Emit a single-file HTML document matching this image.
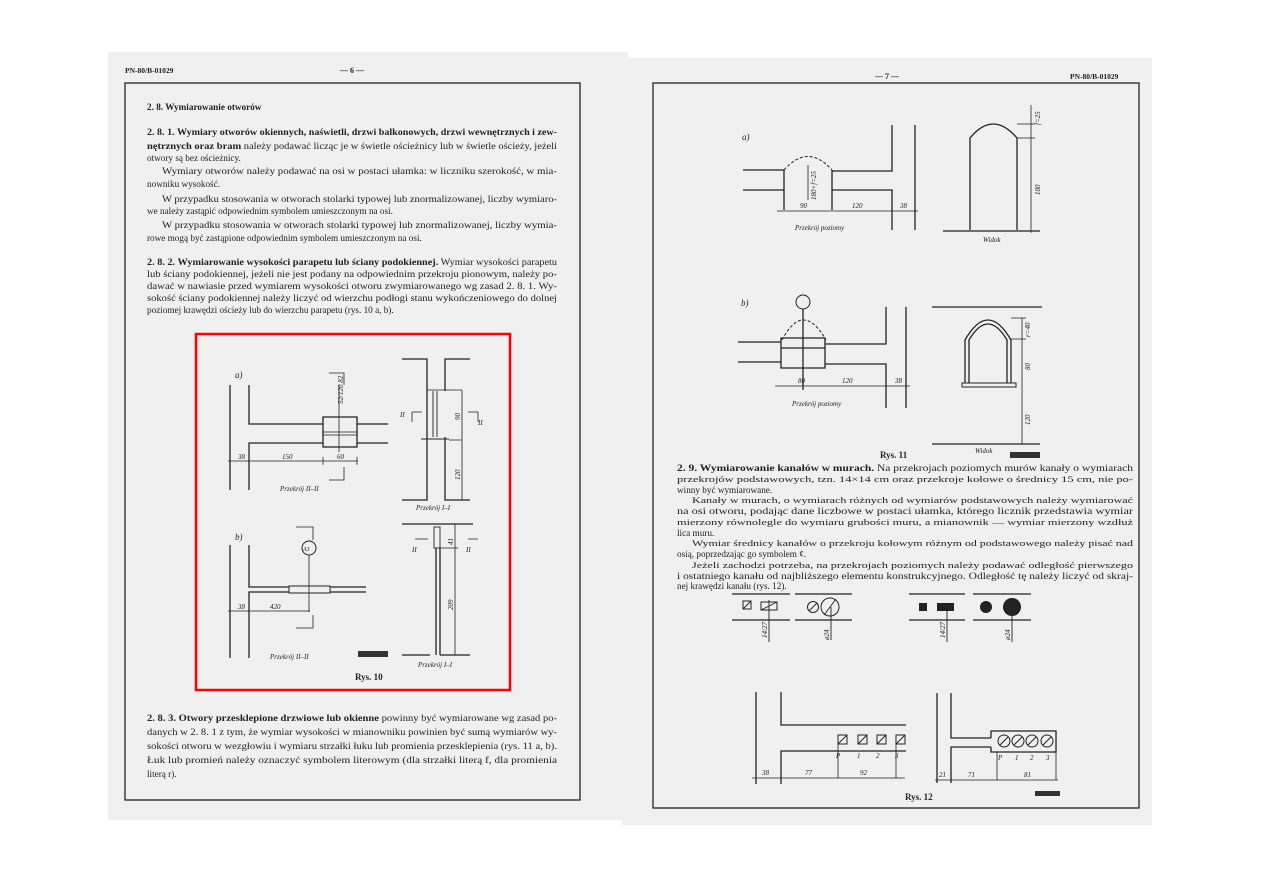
<!DOCTYPE html>
<html><head><meta charset="utf-8"><style>
html,body{margin:0;padding:0;background:#fff;}
svg{display:block;}
text{font-family:"Liberation Serif",serif;fill:#222;}
.b{font-weight:bold;}
.i{font-family:"Liberation Sans",sans-serif;font-style:italic;font-size:7px;}
.s{font-size:9.2px;}
</style></head><body>
<svg width="1263" height="893" viewBox="0 0 1263 893" xmlns="http://www.w3.org/2000/svg">
<rect x="108" y="52" width="520" height="768" fill="#f0f0f0"/>
<rect x="622" y="58" width="530" height="767" fill="#f0f0f0"/>
<rect x="125" y="83" width="455" height="717" fill="none" stroke="#222" stroke-width="1.3"/>
<rect x="653" y="83" width="486" height="725" fill="none" stroke="#222" stroke-width="1.3"/>

<g class="s">
<text x="125" y="73" class="b" font-size="7.5">PN-80/B-01029</text>
<text x="340" y="73" class="b" font-size="8">— 6 —</text>
<text x="147" y="110" class="b">2. 8. Wymiarowanie otworów</text>
<text x="147" y="135" textLength="410" lengthAdjust="spacingAndGlyphs"><tspan class="b">2. 8. 1. Wymiary otworów okiennych, naświetli, drzwi balkonowych, drzwi wewnętrznych i zew-</tspan></text>
<text x="147" y="149" textLength="410" lengthAdjust="spacingAndGlyphs"><tspan class="b">nętrznych oraz bram</tspan> należy podawać licząc je w świetle ościeżnicy lub w świetle ościeży, jeżeli</text>
<text x="147" y="161">otwory są bez ościeżnicy.</text>
<text x="162" y="174" textLength="395" lengthAdjust="spacingAndGlyphs">Wymiary otworów należy podawać na osi w postaci ułamka: w liczniku szerokość, w mia-</text>
<text x="147" y="187">nowniku wysokość.</text>
<text x="162" y="202" textLength="395" lengthAdjust="spacingAndGlyphs">W przypadku stosowania w otworach stolarki typowej lub znormalizowanej, liczby wymiaro-</text>
<text x="147" y="214">we należy zastąpić odpowiednim symbolem umieszczonym na osi.</text>
<text x="162" y="228" textLength="395" lengthAdjust="spacingAndGlyphs">W przypadku stosowania w otworach stolarki typowej lub znormalizowanej, liczby wymia-</text>
<text x="147" y="241">rowe mogą być zastąpione odpowiednim symbolem umieszczonym na osi.</text>
<text x="147" y="265" textLength="410" lengthAdjust="spacingAndGlyphs"><tspan class="b">2. 8. 2. Wymiarowanie wysokości parapetu lub ściany podokiennej.</tspan> Wymiar wysokości parapetu</text>
<text x="147" y="277" textLength="410" lengthAdjust="spacingAndGlyphs">lub ściany podokiennej, jeżeli nie jest podany na odpowiednim przekroju pionowym, należy po-</text>
<text x="147" y="289" textLength="410" lengthAdjust="spacingAndGlyphs">dawać w nawiasie przed wymiarem wysokości otworu zwymiarowanego wg zasad 2. 8. 1. Wy-</text>
<text x="147" y="301" textLength="410" lengthAdjust="spacingAndGlyphs">sokość ściany podokiennej należy liczyć od wierzchu podłogi stanu wykończeniowego do dolnej</text>
<text x="147" y="313">poziomej krawędzi ościeży lub do wierzchu parapetu (rys. 10 a, b).</text>

<text x="147" y="721" textLength="410" lengthAdjust="spacingAndGlyphs"><tspan class="b">2. 8. 3. Otwory przesklepione drzwiowe lub okienne</tspan> powinny być wymiarowane wg zasad po-</text>
<text x="147" y="735" textLength="410" lengthAdjust="spacingAndGlyphs">danych w 2. 8. 1 z tym, że wymiar wysokości w mianowniku powinien być sumą wymiarów wy-</text>
<text x="147" y="749" textLength="410" lengthAdjust="spacingAndGlyphs">sokości otworu w wezgłowiu i wymiaru strzałki łuku lub promienia przesklepienia (rys. 11 a, b).</text>
<text x="147" y="763" textLength="410" lengthAdjust="spacingAndGlyphs">Łuk lub promień należy oznaczyć symbolem literowym (dla strzałki literą f, dla promienia</text>
<text x="147" y="777">literą r).</text>
</g>

<rect x="196" y="334" width="314" height="356" fill="none" stroke="#f00" stroke-width="2.5"/>

<g stroke="#222" fill="none" stroke-width="1.3">
 <path d="M230 385V490M249 385V424H323M249 490V443H323M323 417H357V447H323ZM357 424H388M357 443H388"/>
 <path d="M323 432H357M323 435H357" stroke-width="0.8"/>
 <path d="M228 461H358M230 457V465M249 457V465M323 457V465M357 457V465" stroke-width="0.8"/>
 <path d="M339 385V452M329 373H344V385M344 467V480H329" stroke-width="0.8"/>
 <path d="M402 359H427V500H402M470 359H445V391M445 437V500H470"/>
 <path d="M433 391V437M437 391V437M421 439H449" stroke-width="0.9"/>
 <path d="M427 390H462M449 440H462M462 390V500M412 412V422M412 412H422M478 412V422M478 412H468" stroke-width="0.8"/>
 <path d="M230 545V658M249 545V587H289M249 658V592H289M330 587H366M330 592H366"/>
 <rect x="289" y="586" width="41" height="7" stroke-width="1"/>
 <circle cx="309" cy="548" r="7" stroke-width="1"/>
 <path d="M309 555V612M228 611H310M230 607V615M249 607V615M296 527H313V540M313 615V628H296" stroke-width="0.8"/>
 <path d="M402 524H473M436 548V655M440 548V655M402 655H430M440 655H470"/>
 <rect x="434" y="527" width="6" height="21" stroke-width="0.9"/>
 <path d="M455 524V655M440 548H458M415 539H428M468 539H478" stroke-width="0.8"/>
</g>
<rect x="358" y="651" width="30" height="6" fill="#333"/>
<g class="i">
<text x="235" y="378" font-size="9">a)</text>
<text x="235" y="540" font-size="9">b)</text>
<text x="238" y="459">38</text><text x="282" y="459">150</text><text x="337" y="459">60</text>
<text x="280" y="491">Przekrój II–II</text>
<text x="416" y="510">Przekrój I–I</text>
<text x="238" y="609">38</text><text x="270" y="609">420</text>
<text x="303" y="551" font-size="6">A3</text>
<text x="270" y="659">Przekrój II–II</text>
<text x="418" y="667">Przekrój I–I</text>
<text x="400" y="417">II</text><text x="478" y="425">II</text>
<text x="412" y="552">II</text><text x="466" y="552">II</text>
<text transform="translate(343,404) rotate(-90)">52/120 82</text>
<text transform="translate(460,420) rotate(-90)">90</text>
<text transform="translate(460,480) rotate(-90)">120</text>
<text transform="translate(453,545) rotate(-90)">41</text>
<text transform="translate(453,610) rotate(-90)">209</text>
</g>
<text x="355" y="680" font-size="9" class="b">Rys. 10</text>

<g class="s">
<text x="875" y="79" class="b" font-size="8">— 7 —</text>
<text x="1070" y="79" class="b" font-size="7.5">PN-80/B-01029</text>
<text x="880" y="458" class="b" font-size="9">Rys. 11</text>
<text x="677" y="471" textLength="456" lengthAdjust="spacingAndGlyphs"><tspan class="b">2. 9. Wymiarowanie kanałów w murach.</tspan> Na przekrojach poziomych murów kanały o wymiarach</text>
<text x="677" y="482" textLength="456" lengthAdjust="spacingAndGlyphs" font-size="8.5">przekrojów podstawowych, tzn. 14×14 cm oraz przekroje kołowe o średnicy 15 cm, nie po-</text>
<text x="677" y="493">winny być wymiarowane.</text>
<text x="692" y="503" textLength="441" lengthAdjust="spacingAndGlyphs" font-size="8.5">Kanały w murach, o wymiarach różnych od wymiarów podstawowych należy wymiarować</text>
<text x="677" y="514" textLength="456" lengthAdjust="spacingAndGlyphs">na osi otworu, podając dane liczbowe w postaci ułamka, którego licznik przedstawia wymiar</text>
<text x="677" y="525" textLength="456" lengthAdjust="spacingAndGlyphs" font-size="8.5">mierzony równolegle do wymiaru grubości muru, a mianownik — wymiar mierzony wzdłuż</text>
<text x="677" y="536">lica muru.</text>
<text x="692" y="546" textLength="441" lengthAdjust="spacingAndGlyphs" font-size="8.5">Wymiar średnicy kanałów o przekroju kołowym różnym od podstawowego należy pisać nad</text>
<text x="677" y="557">osią, poprzedzając go symbolem ȼ.</text>
<text x="692" y="568" textLength="441" lengthAdjust="spacingAndGlyphs" font-size="8.5">Jeżeli zachodzi potrzeba, na przekrojach poziomych należy podawać odległość pierwszego</text>
<text x="677" y="579" textLength="456" lengthAdjust="spacingAndGlyphs">i ostatniego kanału od najbliższego elementu konstrukcyjnego. Odległość tę należy liczyć od skraj-</text>
<text x="677" y="589">nej krawędzi kanału (rys. 12).</text>
<text x="905" y="800" class="b" font-size="9">Rys. 12</text>
</g>

<g stroke="#222" fill="none" stroke-width="1.3">
 <path d="M743 170H784V190H743M784 190V210M832 190V210M832 170V190M832 171H892V125M832 190H892V230M915 125V230"/>
 <path d="M784 170Q808 143 832 170" stroke-dasharray="3,2" stroke-width="1"/>
 <path d="M777 211H918M808 165V200" stroke-width="0.8"/>
 <path d="M970 230V138Q993 110 1017 138V230M943 231H1040"/>
 <path d="M1031 105V233M1017 124H1035M1017 138H1035" stroke-width="0.8"/>
 <circle cx="803" cy="302" r="7" stroke-width="1"/>
 <path d="M803 309V390M738 342H781M738 362H781M781 338H825V368H781ZM781 348H825M825 344H886V307M825 364H886V408M906 307V408"/>
 <path d="M782 340Q803 300 826 340" stroke-dasharray="3,2" stroke-width="1"/>
 <path d="M775 386H910" stroke-width="0.8"/>
 <path d="M932 307H1042M932 444H1040M965 383V340Q988 300 1011 340V383M969 383V340Q988 308 1007 340V383"/>
 <rect x="962" y="383" width="54" height="4" stroke-width="1"/>
 <path d="M1022 318V444M1011 318H1026M1011 339H1026" stroke-width="0.8"/>
</g>
<rect x="1010" y="452" width="30" height="6" fill="#333"/>
<g class="i">
<text x="742" y="140" font-size="9">a)</text>
<text x="741" y="306" font-size="9">b)</text>
<text x="800" y="208">90</text><text x="852" y="208">120</text><text x="900" y="208">38</text>
<text x="795" y="230">Przekrój poziomy</text>
<text x="983" y="242">Widok</text>
<text transform="translate(816,200) rotate(-90)">180+f=25</text>
<text transform="translate(1040,125) rotate(-90)">f=25</text>
<text transform="translate(1040,195) rotate(-90)">180</text>
<text x="798" y="383">80</text><text x="842" y="383">120</text><text x="895" y="383">38</text>
<text x="792" y="406">Przekrój poziomy</text>
<text x="975" y="453">Widok</text>
<text transform="translate(1030,337) rotate(-90)">r=40</text>
<text transform="translate(1030,370) rotate(-90)">80</text>
<text transform="translate(1030,425) rotate(-90)">120</text>
</g>

<g stroke="#222" fill="none" stroke-width="1.3">
 <path d="M732 594H790M732 620H790M795 594H852M795 620H852M909 594H965M909 620H965M973 594H1031M973 620H1031"/>
 <rect x="743" y="601" width="8" height="8" stroke-width="1"/>
 <rect x="761" y="602" width="16" height="8" stroke-width="1"/>
 <path d="M743 609L751 601M761 610L777 602M769 600V642M947 605V642M1012 607V642" stroke-width="0.9"/>
 <circle cx="813" cy="607" r="5.5" stroke-width="1"/>
 <circle cx="830" cy="607" r="9" stroke-width="1"/>
 <path d="M809 611L817 603M824 615L836 599M831 607V640" stroke-width="0.9"/>
 <path d="M756 692V784M781 692V725H906M781 784V751H906"/>
 <path d="M752 778H905M781 774V782M838 744V778M896 744V778" stroke-width="0.8"/>
 <path d="M937 693V783M951 693V738H991M951 783V747H991M991 738V731H1056V752H991V747"/>
 <path d="M935 780H1058M997 752V780M1056 752V780" stroke-width="0.8"/>
</g>
<g stroke="#222" fill="none" stroke-width="1">
 <rect x="838" y="735" width="9" height="9"/><rect x="858" y="735" width="9" height="9"/>
 <rect x="877" y="735" width="9" height="9"/><rect x="896" y="735" width="9" height="9"/>
 <path d="M838 744L847 735M858 744L867 735M877 744L886 735M896 744L905 735"/>
 <circle cx="1004" cy="741" r="6"/><circle cx="1018" cy="741" r="6"/><circle cx="1032" cy="741" r="6"/><circle cx="1047" cy="741" r="6"/>
 <path d="M1000 745L1008 737M1014 745L1022 737M1028 745L1036 737M1043 745L1051 737"/>
</g>
<rect x="919" y="603" width="8" height="8" fill="#222"/>
<rect x="937" y="603" width="17" height="8" fill="#222"/>
<circle cx="986" cy="607" r="6" fill="#222"/>
<circle cx="1012" cy="607" r="9" fill="#222"/>
<rect x="1035" y="791" width="25" height="5" fill="#333"/>
<g class="i">
<text transform="translate(767,638) rotate(-90)">14/27</text>
<text transform="translate(829,640) rotate(-90)">ø24</text>
<text transform="translate(945,638) rotate(-90)">14/27</text>
<text transform="translate(1010,640) rotate(-90)">ø24</text>
<text x="836" y="758">P</text><text x="857" y="758">1</text><text x="876" y="758">2</text><text x="895" y="758">3</text>
<text x="762" y="775">38</text><text x="805" y="775">77</text><text x="860" y="775">92</text>
<text x="998" y="760">P</text><text x="1015" y="760">1</text><text x="1030" y="760">2</text><text x="1046" y="760">3</text>
<text x="939" y="777">21</text><text x="968" y="777">71</text><text x="1024" y="777">81</text>
</g>
</svg>
</body></html>
